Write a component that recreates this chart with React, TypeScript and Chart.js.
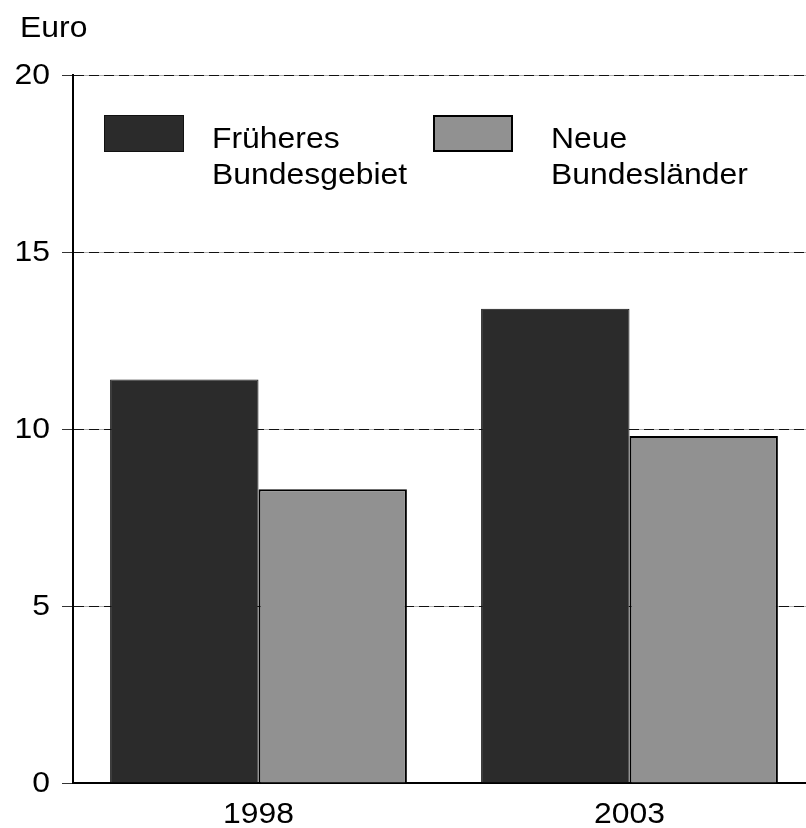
import React, { useEffect, useRef } from "react";
import { Chart, registerables } from "chart.js";

Chart.register(...registerables);

const categories = ["1998", "2003"];
const seriesNames = [
  ["Früheres", "Bundesgebiet"],
  ["Neue", "Bundesländer"],
];
const valuesFrueheres = [11.4, 13.4];
const valuesNeue = [8.3, 9.8];
const yTicks = [0, 5, 10, 15, 20];
const unitLabel = "Euro";

const FONT = '"Liberation Sans", Arial, sans-serif';
const DARK = "#2b2b2b";
const GREY = "#919191";
const STRETCH = 1.1;

function drawText(ctx: any, text: string, x: number, y: number, align: string, baseline: string) {
  ctx.save();
  ctx.translate(x, y);
  ctx.scale(STRETCH, 1);
  ctx.textAlign = align;
  ctx.textBaseline = baseline;
  ctx.fillText(text, 0, 0);
  ctx.restore();
}

function alignPx(p: number) {
  return Math.round(p - 0.5) + 0.5;
}

export default function App() {
  const ref = useRef<HTMLCanvasElement | null>(null);

  useEffect(() => {
    const canvas = ref.current;
    if (!canvas) return;

    const underGrid = {
      id: "underGrid",
      beforeDraw(chart: any) {
        const ctx = chart.ctx;
        const a = chart.chartArea;
        const ys = chart.scales.y;
        ctx.save();
        ctx.strokeStyle = "#b0b0b0";
        ctx.lineWidth = 1;
        yTicks.forEach((v) => {
          if (v === 0) return;
          const y = alignPx(ys.getPixelForValue(v));
          ctx.beginPath();
          ctx.moveTo(a.left - 11, y);
          ctx.lineTo(a.right, y);
          ctx.stroke();
        });
        ctx.restore();
      },
    };

    const overlay = {
      id: "overlay",
      afterDraw(chart: any) {
        const ctx = chart.ctx;
        const a = chart.chartArea;
        const ys = chart.scales.y;
        const xs = chart.scales.x;
        ctx.save();
        ctx.font = `29px ${FONT}`;
        ctx.fillStyle = "#000";

        drawText(ctx, unitLabel, 20, 37, "left", "alphabetic");

        yTicks.forEach((v) => {
          drawText(ctx, String(v), 50, ys.getPixelForValue(v) + 1, "right", "middle");
        });
        categories.forEach((c, i) => {
          drawText(ctx, c, xs.getPixelForValue(i), 823, "center", "alphabetic");
        });

        const boxes = [
          { bx: a.left + 31, tx: a.left + 139, fill: DARK, stroke: "#111", lw: 1 },
          { bx: a.left + 360, tx: a.left + 478, fill: GREY, stroke: "#000", lw: 2 },
        ];
        boxes.forEach((b, i) => {
          const by = a.top + 40;
          ctx.fillStyle = b.fill;
          ctx.fillRect(b.bx, by, 80, 37);
          ctx.lineWidth = b.lw;
          ctx.strokeStyle = b.stroke;
          ctx.strokeRect(b.bx + b.lw / 2, by + b.lw / 2, 80 - b.lw, 37 - b.lw);
          ctx.fillStyle = "#000";
          seriesNames[i].forEach((line, j) => {
            drawText(ctx, line, b.tx, a.top + 73 + j * 35.5, "left", "alphabetic");
          });
        });
        ctx.restore();
      },
    };

    const chart = new Chart(canvas, {
      type: "bar",
      data: {
        labels: categories,
        datasets: [
          {
            label: seriesNames[0].join(" "),
            data: valuesFrueheres,
            backgroundColor: DARK,
            borderColor: "#111",
            borderWidth: 1,
          },
          {
            label: seriesNames[1].join(" "),
            data: valuesNeue,
            backgroundColor: GREY,
            borderColor: "#000",
            borderWidth: 2,
          },
        ],
      },
      options: {
        animation: false,
        responsive: false,
        devicePixelRatio: 1,
        layout: { padding: { top: 75, left: 0, right: 0, bottom: 0 } },
        plugins: {
          legend: { display: false },
          tooltip: { enabled: false },
          title: { display: false },
        },
        datasets: {
          bar: { categoryPercentage: 0.8, barPercentage: 1.0 },
        },
        scales: {
          x: {
            grid: { display: false, drawTicks: false },
            border: { display: true, color: "#000", width: 2 },
            ticks: { display: false },
            afterFit: (s: any) => {
              s.height = 45;
            },
          },
          y: {
            min: 0,
            max: 20,
            afterBuildTicks: (s: any) => {
              s.ticks = yTicks.map((v) => ({ value: v }));
            },
            grid: {
              color: "#111",
              lineWidth: 1,
              tickLength: 11,
              tickColor: "#333",
              tickBorderDash: [],
            },
            border: { display: true, color: "#000", width: 2, dash: [10, 5] },
            ticks: { display: false },
            afterFit: (s: any) => {
              s.width = 73;
            },
          },
        },
      },
      plugins: [underGrid, overlay],
    });

    return () => chart.destroy();
  }, []);

  return (
    <div
      style={{
        position: "fixed",
        left: 0,
        top: 0,
        width: 806,
        height: 828,
        overflow: "hidden",
        background: "#fff",
      }}
    >
      <canvas ref={ref} width={815} height={828} style={{ display: "block" }} />
    </div>
  );
}
